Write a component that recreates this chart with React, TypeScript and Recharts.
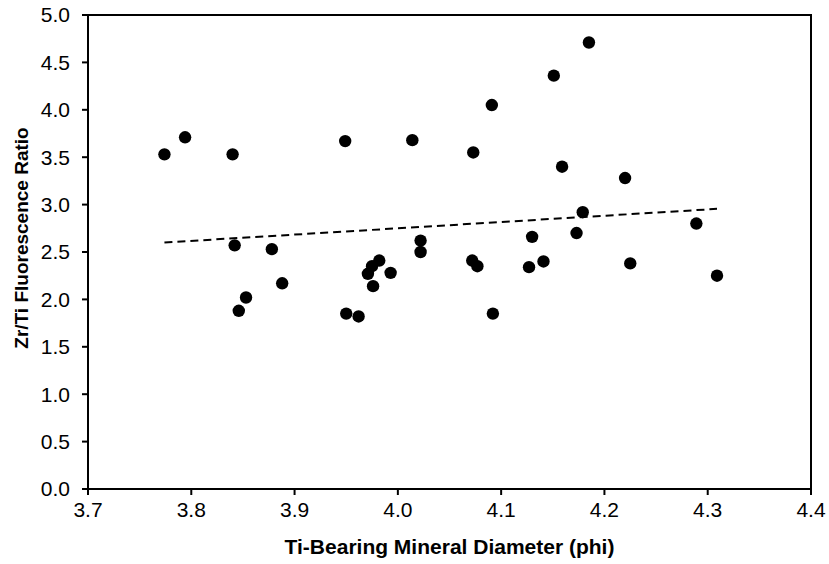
import React from "react";
import {
  ScatterChart,
  Scatter,
  XAxis,
  YAxis,
  ReferenceLine,
  ReferenceArea,
  Label,
} from "recharts";

// Ti-bearing mineral diameter (phi) for each sample
const diameterPhi: number[] = [
  3.774, 3.794, 3.84, 3.949, 4.014, 3.842, 3.878, 3.888, 3.971, 3.975,
  3.982, 3.993, 3.976, 4.022, 4.022, 3.846, 3.853, 3.95, 3.962,
  4.185, 4.151, 4.091, 4.073, 4.159, 4.22, 4.179, 4.289, 4.13, 4.173,
  4.072, 4.077, 4.127, 4.141, 4.225, 4.309, 4.092,
];

// Zr/Ti fluorescence ratio for each sample
const zrTiRatio: number[] = [
  3.53, 3.71, 3.53, 3.67, 3.68, 2.57, 2.53, 2.17, 2.27, 2.35,
  2.41, 2.28, 2.14, 2.62, 2.5, 1.88, 2.02, 1.85, 1.82,
  4.71, 4.36, 4.05, 3.55, 3.4, 3.28, 2.92, 2.8, 2.66, 2.7,
  2.41, 2.35, 2.34, 2.4, 2.38, 2.25, 1.85,
];

// Linear trend endpoints (phi, ratio)
const trendX: number[] = [3.774, 4.309];
const trendY: number[] = [2.6, 2.955];

const xTicks: number[] = [3.7, 3.8, 3.9, 4.0, 4.1, 4.2, 4.3, 4.4];
const yTicks: number[] = [0, 0.5, 1, 1.5, 2, 2.5, 3, 3.5, 4, 4.5, 5];

const points = diameterPhi.map((x, i) => ({ x, y: zrTiRatio[i] }));

const FONT = "'Liberation Sans', Arial, Helvetica, sans-serif";

const Dot = (props: any) => (
  <circle cx={props.cx} cy={props.cy} r={6.2} fill="#000" />
);

const XTitle = (props: any) => {
  const vb = props.viewBox;
  return (
    <text
      x={vb.x + vb.width / 2}
      y={vb.y + 65}
      textAnchor="middle"
      fontFamily={FONT}
      fontSize={21}
      fontWeight="bold"
      fill="#000"
    >
      Ti-Bearing Mineral Diameter (phi)
    </text>
  );
};

const YTitle = (props: any) => {
  const vb = props.viewBox;
  const cx = vb.x + 28;
  const cy = vb.y + vb.height / 2 - 14;
  return (
    <text
      x={cx}
      y={cy}
      transform={`rotate(-90 ${cx} ${cy})`}
      textAnchor="middle"
      fontFamily={FONT}
      fontSize={19}
      fontWeight="bold"
      fill="#000"
    >
      Zr/Ti Fluorescence Ratio
    </text>
  );
};

export default function App() {
  return (
    <div style={{ position: "absolute", left: 0, top: 0 }}>
      <ScatterChart
        width={829}
        height={564}
        margin={{ top: 15, right: 18, bottom: 0, left: 0 }}
        style={{ fontFamily: FONT }}
      >
        <XAxis
          type="number"
          dataKey="x"
          domain={[3.7, 4.4]}
          ticks={xTicks}
          tickFormatter={(v: number) => v.toFixed(1)}
          height={75}
          tickSize={6}
          tickMargin={7}
          axisLine={{ stroke: "#000", strokeWidth: 2 }}
          tickLine={{ stroke: "#000", strokeWidth: 2 }}
          tick={{ fill: "#000", fontSize: 21, fontFamily: FONT }}
          allowDataOverflow
        >
          <Label content={<XTitle />} />
        </XAxis>
        <YAxis
          type="number"
          dataKey="y"
          domain={[0, 5]}
          ticks={yTicks}
          tickFormatter={(v: number) => v.toFixed(1)}
          width={88}
          tickSize={6}
          tickMargin={12}
          axisLine={{ stroke: "#000", strokeWidth: 2 }}
          tickLine={{ stroke: "#000", strokeWidth: 2 }}
          tick={{ fill: "#000", fontSize: 21, fontFamily: FONT }}
          allowDataOverflow
        >
          <Label content={<YTitle />} />
        </YAxis>
        {/* plot frame */}
        <ReferenceArea
          x1={3.7}
          x2={4.4}
          y1={0}
          y2={5}
          fill="none"
          fillOpacity={0}
          stroke="#000"
          strokeWidth={2}
          ifOverflow="visible"
        />
        <ReferenceLine
          segment={[
            { x: trendX[0], y: trendY[0] },
            { x: trendX[1], y: trendY[1] },
          ]}
          stroke="#000"
          strokeWidth={2}
          strokeDasharray="8 5"
          ifOverflow="visible"
        />
        <Scatter
          data={points}
          shape={<Dot />}
          isAnimationActive={false}
        />
      </ScatterChart>
    </div>
  );
}
